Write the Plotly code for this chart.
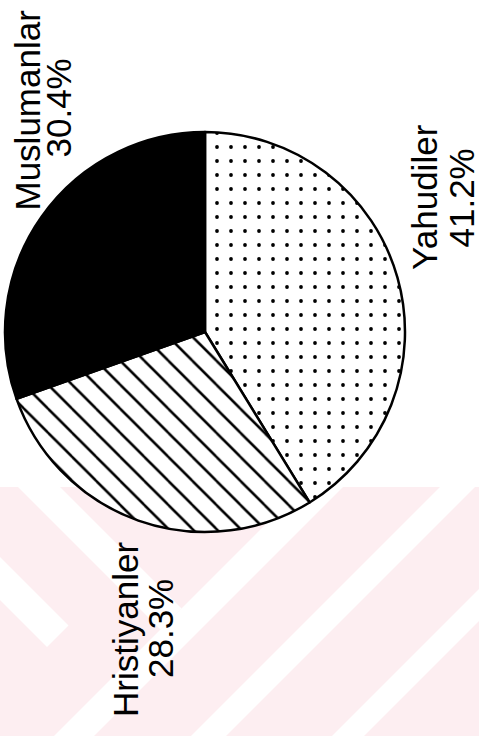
import plotly.graph_objects as go

# ---- data ----
labels = ["Yahudiler", "Hristiyanler", "Muslumanlar"]
values = [41.2, 28.3, 30.4]

# ---- canvas ----
W, H = 479, 736


def px(x, y):
    return x / W, 1 - y / H


# pie geometry (pixels)
cx, cy, r = 205, 332, 200

fig = go.Figure()
fig.add_trace(go.Pie(
    labels=labels,
    values=values,
    sort=False,
    direction="clockwise",
    rotation=0,
    textinfo="none",
    hoverinfo="label+percent",
    showlegend=False,
    marker=dict(
        colors=["white", "white", "black"],
        line=dict(color="black", width=2.5),
        pattern=dict(
            shape=[".", "\\", ""],
            fgcolor="black",
            bgcolor=["white", "white", "black"],
            size=[14, 17, 10],
            solidity=[0.058, 0.15, 0.3],
            fillmode="replace",
        ),
    ),
    domain=dict(x=[(cx - r) / W, (cx + r) / W], y=[1 - (cy + r) / H, 1 - (cy - r) / H]),
))

# ---- background watermark (pink band with white stripes) ----
shapes = []
x0, y0 = px(0, 487)
x1, y1 = px(W, H)
shapes.append(dict(type="rect", xref="paper", yref="paper", x0=x0, y0=y1, x1=x1, y1=y0,
                   fillcolor="#fdeef1", line=dict(width=0), layer="below"))


def poly(points):
    pts = [px(x, y) for x, y in points]
    d = "M " + " L ".join(f"{a:.5f},{b:.5f}" for a, b in pts) + " Z"
    return dict(type="path", xref="paper", yref="paper", path=d,
                fillcolor="white", line=dict(width=0), layer="below")


stripes = [
    [(303, 487), (343, 487), (94, 736), (54, 736)],
    [(440, 487), (475, 487), (226, 736), (191, 736)],
    [(479, 589), (479, 621), (364, 736), (332, 736)],
    [(18, 487), (60, 487), (181.5, 608.5), (160.5, 629.5)],
    [(0, 557), (68.5, 625.5), (47, 647), (0, 600)],
]
for s in stripes:
    shapes.append(poly(s))

# ---- rotated labels ----
label_pos = {
    "Muslumanlar": ((27.5, 110), (58.5, 108)),
    "Yahudiler": ((424, 197), (460.5, 198)),
    "Hristiyanler": ((125, 630), (160, 629)),
}
font = dict(family="Liberation Sans, Arial, sans-serif", size=35, color="black")
annotations = []
for lab, val in zip(labels, values):
    (ax1, ay1), (ax2, ay2) = label_pos[lab]
    for text, (ax, ay) in ((lab, (ax1, ay1)), (f"{val:.1f}%", (ax2, ay2))):
        xp, yp = px(ax, ay)
        annotations.append(dict(text=text, x=xp, y=yp, xref="paper", yref="paper",
                                xanchor="center", yanchor="middle", textangle=-90,
                                showarrow=False, font=font))

fig.update_layout(
    width=W, height=H,
    margin=dict(l=0, r=0, t=0, b=0),
    paper_bgcolor="white",
    plot_bgcolor="white",
    shapes=shapes,
    annotations=annotations,
)

fig.write_html("out.html",
               config={"displayModeBar": False},
               post_script="document.body.style.margin='0';document.body.style.overflow='hidden';")
